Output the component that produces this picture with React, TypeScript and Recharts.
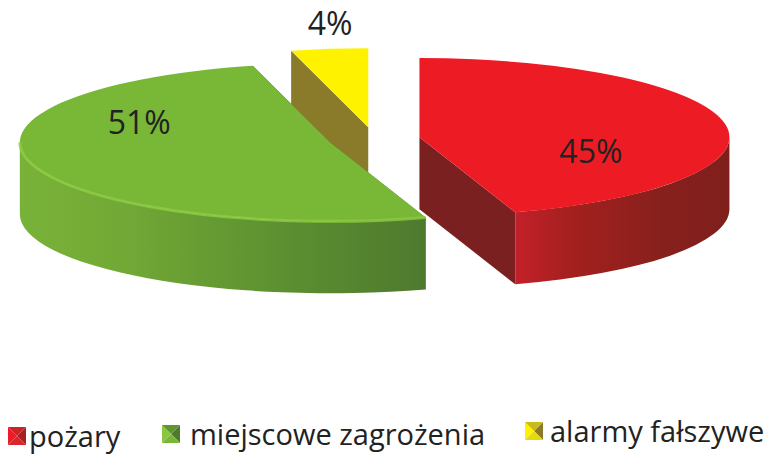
import { PieChart, Pie, Legend } from "recharts";

// drawn back to front: yellow first so the green slice overlaps it
const names = ["alarmy fałszywe", "miejscowe zagrożenia", "pożary"];
const values = [4, 51, 45];

const data = names.map((name, i) => ({ name, value: values[i] }));

const SQUASH = 0.255; // ellipse ry / rx
const DEPTH = 72;
const EXPLODE = 46;

const PALETTE: Record<string, { top: string; cut: string; wall: string[]; swatch: string[] }> = {
  "pożary": {
    top: "#ed1c24",
    cut: "#7a2020",
    wall: ["#c4202a", "#a5201f", "#86201c", "#7f1f1c"],
    swatch: ["#ed1c24", "#a92022", "#c9242a", "#d8262c"],
  },
  "miejscowe zagrożenia": {
    top: "#78b836",
    cut: "#4e7a2e",
    wall: ["#79b238", "#72a936", "#5a8c30", "#4e7a2e"],
    swatch: ["#8cc63f", "#4e7a2e", "#5f9632", "#78b836"],
  },
  "alarmy fałszywe": {
    top: "#fff200",
    cut: "#8a7b2a",
    wall: ["#8a7b2a", "#8a7b2a", "#8a7b2a", "#8a7b2a"],
    swatch: ["#fff200", "#8a7b2a", "#c9bb1a", "#e6d90e"],
  },
};

// radial fraction of the label and its vertical nudge
const LABEL_SPOT: Record<string, [number, number]> = {
  "pożary": [0.56, 20],
  "miejscowe zagrożenia": [0.64, -35],
  "alarmy fałszywe": [0.98, -28],
};

const LEGEND_SPOT: Record<string, { left: number; top: number; gap: number }> = {
  "pożary": { left: 8, top: 416, gap: 3 },
  "miejscowe zagrożenia": { left: 162, top: 414, gap: 10 },
  "alarmy fałszywe": { left: 525, top: 411, gap: 7 },
};

const rad = (deg: number) => (deg * Math.PI) / 180;

function sliceCenter(cx: number, cy: number, midAngle: number) {
  return {
    x: cx + EXPLODE * Math.cos(rad(midAngle)),
    y: cy - EXPLODE * SQUASH * Math.sin(rad(midAngle)),
  };
}

function Slice(props: any) {
  const { cx, cy, outerRadius, startAngle, endAngle, midAngle, name } = props;
  const colors = PALETTE[name];
  const c = sliceCenter(cx, cy, midAngle);
  const rx = outerRadius;
  const ry = outerRadius * SQUASH;
  const pt = (a: number, down = 0) => ({
    x: c.x + rx * Math.cos(rad(a)),
    y: c.y - ry * Math.sin(rad(a)) + down,
  });
  const a = Math.min(startAngle, endAngle);
  const b = Math.max(startAngle, endAngle);
  const s = pt(a);
  const e = pt(b);
  const large = b - a > 180 ? 1 : 0;
  const top = `M${c.x},${c.y} L${s.x},${s.y} A${rx},${ry} 0 ${large} 0 ${e.x},${e.y} Z`;

  const cutFace = (p: { x: number; y: number }) =>
    `M${c.x},${c.y} L${p.x},${p.y} L${p.x},${p.y + DEPTH} L${c.x},${c.y + DEPTH} Z`;

  // the outer wall only shows on the front half of the ellipse
  const wa = Math.max(a, 180);
  const wb = Math.min(b, 360);
  let wall = "";
  let rim = "";
  if (wb > wa) {
    const p1 = pt(wa);
    const p2 = pt(wb);
    const p3 = pt(wb, DEPTH);
    const p4 = pt(wa, DEPTH);
    wall = `M${p1.x},${p1.y} A${rx},${ry} 0 0 0 ${p2.x},${p2.y} L${p3.x},${p3.y} A${rx},${ry} 0 0 1 ${p4.x},${p4.y} Z`;
    rim = `M${p1.x},${p1.y} A${rx},${ry} 0 0 0 ${p2.x},${p2.y}`;
  }
  const gradId = `wall-${values[names.indexOf(name)]}`;

  return (
    <g>
      <defs>
        <linearGradient id={gradId} x1="0" y1="0" x2="1" y2="0">
          <stop offset="0" stopColor={colors.wall[0]} />
          <stop offset="0.25" stopColor={colors.wall[1]} />
          <stop offset="0.7" stopColor={colors.wall[2]} />
          <stop offset="1" stopColor={colors.wall[3]} />
        </linearGradient>
      </defs>
      <path d={cutFace(s)} fill={colors.cut} />
      <path d={cutFace(e)} fill={colors.cut} />
      {wall && <path d={wall} fill={`url(#${gradId})`} />}
      <path d={top} fill={colors.top} />
      {name === "miejscowe zagrożenia" && (
        <path d={rim} fill="none" stroke="#8fca45" strokeWidth={3} opacity={0.8} />
      )}
    </g>
  );
}

function SliceLabel(props: any) {
  const { cx, cy, outerRadius, midAngle, name, value } = props;
  const c = sliceCenter(cx, cy, midAngle);
  const [frac, nudge] = LABEL_SPOT[name];
  const x = c.x + frac * outerRadius * Math.cos(rad(midAngle));
  const y = c.y - frac * outerRadius * SQUASH * Math.sin(rad(midAngle)) + nudge;
  return (
    <text
      x={x}
      y={y}
      textAnchor="middle"
      dominantBaseline="central"
      fontFamily="Open Sans"
      fontSize={32}
      fill="#222222"
    >
      {`${value}%`}
    </text>
  );
}

function Swatch({ name }: { name: string }) {
  const [l, r, t, b] = PALETTE[name].swatch;
  return (
    <svg width={18} height={18} style={{ flex: "none" }}>
      <polygon points="0,0 9,9 0,18" fill={l} />
      <polygon points="18,0 9,9 18,18" fill={r} />
      <polygon points="0,0 18,0 9,9" fill={t} />
      <polygon points="0,18 18,18 9,9" fill={b} />
    </svg>
  );
}

function ChartLegend() {
  return (
    <div style={{ position: "relative", width: 770, height: 455 }}>
      {[...names].reverse().map((name) => (
        <div
          key={name}
          style={{
            position: "absolute",
            ...LEGEND_SPOT[name],
            display: "flex",
            alignItems: "center",
            fontFamily: "Open Sans",
            fontSize: 29,
            lineHeight: "40px",
            color: "#222222",
            whiteSpace: "nowrap",
          }}
        >
          <Swatch name={name} />
          <span>{name}</span>
        </div>
      ))}
    </div>
  );
}

export default function App() {
  return (
    <div style={{ position: "absolute", left: 0, top: 0, width: 770, height: 455, background: "#ffffff" }}>
      <PieChart width={770} height={455}>
        <Pie
          data={data}
          dataKey="value"
          nameKey="name"
          cx={369}
          cy={134}
          outerRadius={310}
          startAngle={90}
          endAngle={450}
          stroke="none"
          shape={Slice}
          label={SliceLabel}
          labelLine={false}
          isAnimationActive={false}
        />
        <Legend
          content={<ChartLegend />}
          wrapperStyle={{ position: "absolute", left: 0, top: 0, width: 770, height: 455, bottom: "auto" }}
        />
      </PieChart>
    </div>
  );
}
